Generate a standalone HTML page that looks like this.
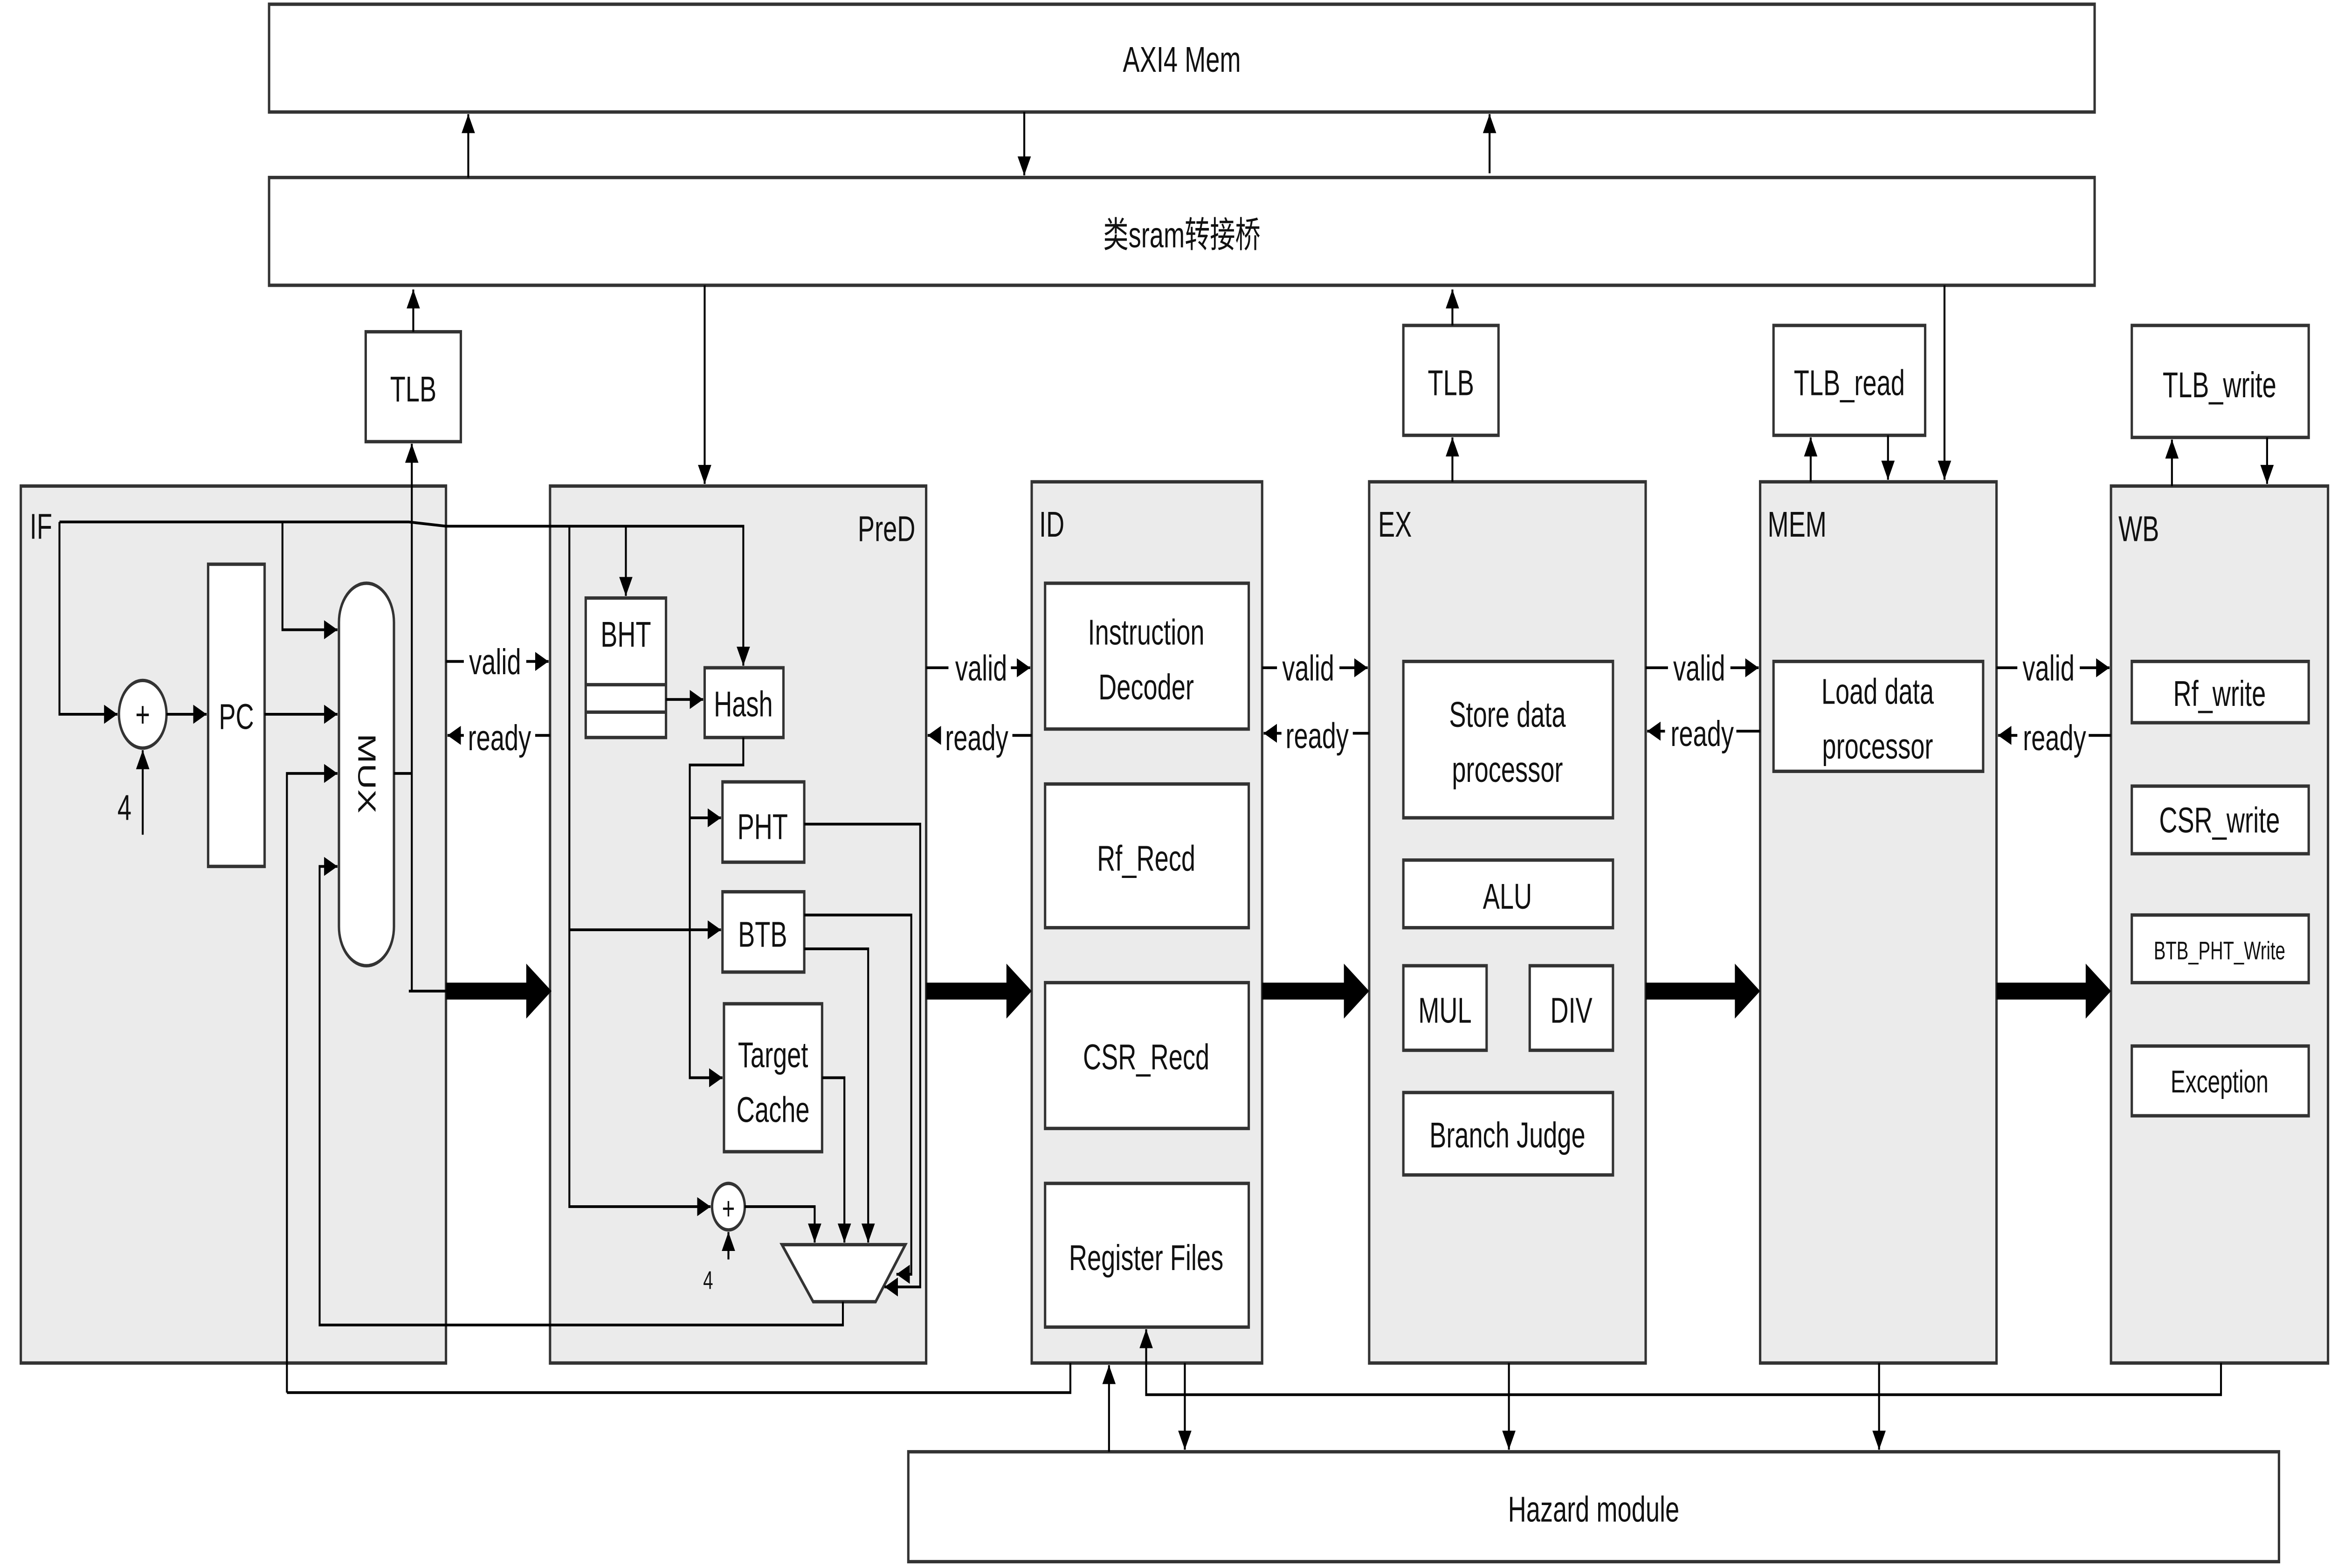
<!DOCTYPE html>
<html><head><meta charset="utf-8"><style>
html,body{margin:0;padding:0;background:#fff;width:100%;height:100%;overflow:hidden;}
svg{display:block;position:fixed;left:0;top:0;width:100vw;height:100vh;}
text{font-family:"Liberation Sans","Noto Sans CJK SC",sans-serif;fill:#111;}
</style></head><body>
<svg viewBox="0 0 1568 742" preserveAspectRatio="none" xmlns="http://www.w3.org/2000/svg">
<defs>
<marker id="a" markerUnits="userSpaceOnUse" markerWidth="10" markerHeight="10" refX="9" refY="5" orient="auto">
<path d="M0,0.5 L9,5 L0,9.5 z" fill="#000"/></marker>
</defs>
<g stroke="#333" stroke-width="1.6" fill="#fff">
<rect x="181" y="2" width="1228" height="51"/>
<rect x="181" y="84" width="1228" height="51"/>
<rect x="246" y="157" width="64" height="52"/>
<rect x="944" y="154" width="64" height="52"/>
<rect x="1193" y="154" width="102" height="52"/>
<rect x="1434" y="154" width="119" height="53"/>
<rect x="611" y="687" width="922" height="52"/>
</g>
<g stroke="#333" stroke-width="1.6" fill="#ebebeb">
<rect x="14" y="230" width="286" height="415"/>
<rect x="370" y="230" width="253" height="415"/>
<rect x="694" y="228" width="155" height="417"/>
<rect x="921" y="228" width="186" height="417"/>
<rect x="1184" y="228" width="159" height="417"/>
<rect x="1420" y="230" width="146" height="415"/>
</g>
<g stroke="#333" stroke-width="1.6" fill="#fff">
<rect x="140" y="267" width="38" height="143"/>
<circle cx="96" cy="338" r="16"/>
<rect x="228" y="276" width="37" height="181" rx="18.5"/>
<rect x="394" y="283" width="54" height="66"/>
<line x1="394" y1="324" x2="448" y2="324"/><line x1="394" y1="337" x2="448" y2="337"/>
<rect x="474" y="316" width="53" height="33"/>
<rect x="486" y="370" width="55" height="38"/>
<rect x="486" y="422" width="55" height="38"/>
<rect x="487" y="475" width="66" height="70"/>
<circle cx="490" cy="571" r="11"/>
<path d="M526,589 L609,589 L589,616 L547,616 z"/>
<rect x="703" y="276" width="137" height="69"/>
<rect x="703" y="371" width="137" height="68"/>
<rect x="703" y="465" width="137" height="69"/>
<rect x="703" y="560" width="137" height="68"/>
<rect x="944" y="313" width="141" height="74"/>
<rect x="944" y="407" width="141" height="32"/>
<rect x="944" y="457" width="56" height="40"/>
<rect x="1029" y="457" width="56" height="40"/>
<rect x="944" y="517" width="141" height="39"/>
<rect x="1193" y="313" width="141" height="52"/>
<rect x="1434" y="313" width="119" height="29"/>
<rect x="1434" y="372" width="119" height="32"/>
<rect x="1434" y="433" width="119" height="32"/>
<rect x="1434" y="495" width="119" height="33"/>
</g>
<g stroke="#000" stroke-width="1.3" fill="none" marker-end="url(#a)">
<line x1="315" y1="84" x2="315" y2="54"/>
<line x1="689" y1="53" x2="689" y2="83"/>
<line x1="1002" y1="82" x2="1002" y2="54"/>
<line x1="278" y1="157" x2="278" y2="137"/>
<line x1="474" y1="135" x2="474" y2="229"/>
<line x1="977" y1="154" x2="977" y2="137"/>
<line x1="977" y1="228" x2="977" y2="207"/>
<line x1="1218" y1="228" x2="1218" y2="207"/>
<line x1="1270" y1="206" x2="1270" y2="227"/>
<line x1="1308" y1="135" x2="1308" y2="227"/>
<line x1="1461" y1="230" x2="1461" y2="208"/>
<line x1="1525" y1="207" x2="1525" y2="229"/>
<polyline points="40,247 40,338 79,338"/>
<polyline points="40,247 275,247 300,249 500,249 500,315"/>
<polyline points="421,249 421,282"/>
<polyline points="190,247 190,298 227,298"/>
<line x1="112" y1="338" x2="139" y2="338"/>
<line x1="178" y1="338" x2="227" y2="338"/>
<polyline points="193,659 193,366 227,366"/>
<polyline points="567,616 567,627 215,627 215,410 227,410"/>
<line x1="96" y1="395" x2="96" y2="355"/>
<line x1="277" y1="469" x2="277" y2="210"/>
<line x1="448" y1="331" x2="473" y2="331"/>
<polyline points="500,349 500,362 464,362 464,387 485,387"/>
<polyline points="464,387 464,510 486,510"/>
<polyline points="383,249 383,571 478,571"/>
<polyline points="383,440 485,440"/>
<line x1="490" y1="596" x2="490" y2="583"/>
<polyline points="501,571 548,571 548,588"/>
<polyline points="553,510 568,510 568,588"/>
<polyline points="541,449 584,449 584,588"/>
<polyline points="541,433 613,433 613,603 603,603"/>
<polyline points="541,390 619,390 619,609 595,609"/>
<line x1="300" y1="313" x2="369" y2="313"/><line x1="370" y1="348" x2="301" y2="348"/>
<line x1="623" y1="316" x2="693" y2="316"/><line x1="694" y1="348" x2="624" y2="348"/>
<line x1="849" y1="316" x2="920" y2="316"/><line x1="921" y1="347" x2="850" y2="347"/>
<line x1="1107" y1="316" x2="1183" y2="316"/><line x1="1184" y1="346" x2="1108" y2="346"/>
<line x1="1343" y1="316" x2="1419" y2="316"/><line x1="1420" y1="348" x2="1344" y2="348"/>
<line x1="746" y1="687" x2="746" y2="646"/>
<polyline points="1494,645 1494,660 771,660 771,629"/>
<line x1="797" y1="645" x2="797" y2="686"/>
<line x1="1015" y1="645" x2="1015" y2="686"/>
<line x1="1264" y1="645" x2="1264" y2="686"/>
</g>
<g stroke="#000" stroke-width="1.3" fill="none">
<polyline points="193,659 720,659 720,645"/>
<line x1="265" y1="366" x2="277" y2="366"/>
<line x1="275" y1="469" x2="300" y2="469"/>
</g>
<g fill="#000">
<rect x="300" y="465" width="56" height="8"/><path d="M354,456 L371,469 L354,482 z"/>
<rect x="623" y="465" width="56" height="8"/><path d="M677,456 L694,469 L677,482 z"/>
<rect x="849" y="465" width="57" height="8"/><path d="M904,456 L921,469 L904,482 z"/>
<rect x="1107" y="465" width="62" height="8"/><path d="M1167,456 L1184,469 L1167,482 z"/>
<rect x="1343" y="465" width="62" height="8"/><path d="M1403,456 L1420,469 L1403,482 z"/>
</g>
<g font-size="17" text-anchor="middle">
<text x="795" y="34">AXI4 Mem</text>
<text x="795" y="117">类sram转接桥</text>
<text x="278" y="190">TLB</text>
<text x="976" y="187">TLB</text>
<text x="1244" y="187">TLB_read</text>
<text x="1493" y="188">TLB_write</text>
<text x="1072" y="720">Hazard module</text>
<text x="159" y="345">PC</text>
<text x="96" y="344">+</text>
<text x="490" y="577" font-size="15">+</text>
<text x="421" y="306">BHT</text>
<text x="500" y="339">Hash</text>
<text x="513" y="397">PHT</text>
<text x="513" y="448">BTB</text>
<text x="520" y="505">Target</text>
<text x="520" y="531">Cache</text>
<text x="771" y="305">Instruction</text>
<text x="771" y="331">Decoder</text>
<text x="771" y="412">Rf_Recd</text>
<text x="771" y="506">CSR_Recd</text>
<text x="771" y="601">Register Files</text>
<text x="1014" y="344">Store data</text>
<text x="1014" y="370">processor</text>
<text x="1014" y="430">ALU</text>
<text x="972" y="484">MUL</text>
<text x="1057" y="484">DIV</text>
<text x="1014" y="543">Branch Judge</text>
<text x="1263" y="333">Load data</text>
<text x="1263" y="359">processor</text>
<text x="1493" y="334">Rf_write</text>
<text x="1493" y="394">CSR_write</text>
<text x="1493" y="454" font-size="12">BTB_PHT_Write</text>
<text x="1493" y="517" font-size="15">Exception</text>
<text x="247" y="366" transform="rotate(90 247 366)" dy="6">MUX</text>
</g>
<g font-size="17">
<text x="20" y="255">IF</text>
<text x="577" y="256">PreD</text>
<text x="699" y="254">ID</text>
<text x="927" y="254">EX</text>
<text x="1189" y="254">MEM</text>
<text x="1425" y="256">WB</text>
<text x="79" y="388" fill="#444">4</text>
<text x="473" y="610" font-size="12" fill="#444">4</text>
</g>
<g font-size="17" text-anchor="middle">
<rect x="312" y="305" width="42" height="16" fill="#fff"/><text x="333" y="319">valid</text>
<rect x="312" y="340" width="48" height="16" fill="#fff"/><text x="336" y="355">ready</text>
<rect x="638" y="308" width="42" height="16" fill="#fff"/><text x="660" y="322">valid</text>
<rect x="633" y="340" width="48" height="16" fill="#fff"/><text x="657" y="355">ready</text>
<rect x="859" y="308" width="42" height="16" fill="#fff"/><text x="880" y="322">valid</text>
<rect x="862" y="339" width="48" height="16" fill="#fff"/><text x="886" y="354">ready</text>
<rect x="1122" y="308" width="42" height="16" fill="#fff"/><text x="1143" y="322">valid</text>
<rect x="1120" y="338" width="48" height="16" fill="#fff"/><text x="1145" y="353">ready</text>
<rect x="1357" y="308" width="42" height="16" fill="#fff"/><text x="1378" y="322">valid</text>
<rect x="1357" y="340" width="48" height="16" fill="#fff"/><text x="1382" y="355">ready</text>
</g>
</svg>
</body></html>
